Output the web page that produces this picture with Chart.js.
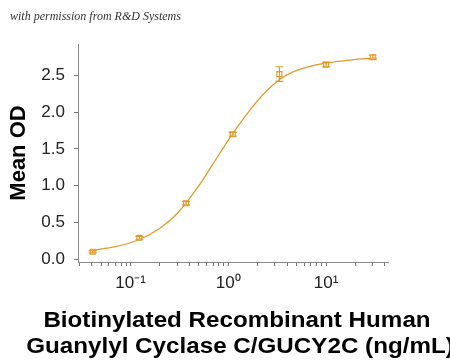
<!DOCTYPE html>
<html>
<head>
<meta charset="utf-8">
<script src="https://cdn.jsdelivr.net/npm/chart.js@4/dist/chart.umd.min.js"></script>
<style>
  html, body { margin: 0; padding: 0; background: #fff; }
</style>
</head>
<body>
<canvas id="odChart" width="450" height="362"></canvas>
<script>
// measured points (ng/mL vs mean OD)
const concentrations = [0.041, 0.123, 0.37, 1.11, 3.33, 10, 30]
const meanOD = [0.10, 0.29, 0.76, 1.70, 2.52, 2.65, 2.75]
const odError = [0.015, 0.02, 0.025, 0.025, 0.10, 0.03, 0.03]

// fitted curve
const fitConc = [0.041, 0.07, 0.12, 0.2, 0.3, 0.5, 0.7, 1.0, 1.5, 2, 2.5, 3.3, 4, 5, 7, 10, 15, 20, 33]
const fitOD = [0.12, 0.17, 0.26, 0.42, 0.62, 1.00, 1.30, 1.62, 1.95, 2.16, 2.30, 2.44, 2.51, 2.57, 2.63, 2.67, 2.70, 2.72, 2.74]

const yTicks = [0, 0.5, 1.0, 1.5, 2.0, 2.5]
const xMajor = [0.1, 1, 10]
const xMajorLabels = ['10⁻¹', '10⁰', '10¹']
const xTitle = ['Biotinylated Recombinant Human', 'Guanylyl Cyclase C/GUCY2C (ng/mL)']

const orange = '#e29a2b'

const errorBars = {
    id: 'errorBars',
    afterDatasetsDraw(chart) {
        const { ctx, scales: { x, y } } = chart
        ctx.save()
        ctx.strokeStyle = orange
        ctx.lineWidth = 1.2
        concentrations.forEach((c, i) => {
            const px = x.getPixelForValue(c)
            const top = y.getPixelForValue(meanOD[i] + odError[i])
            const bot = y.getPixelForValue(meanOD[i] - odError[i])
            ctx.beginPath()
            ctx.moveTo(px, top); ctx.lineTo(px, bot)
            ctx.moveTo(px - 4, top); ctx.lineTo(px + 4, top)
            ctx.moveTo(px - 4, bot); ctx.lineTo(px + 4, bot)
            ctx.stroke()
        })
        ctx.restore()
    }
}

// header note + x axis title (drawn by hand so the long lines aren't squeezed)
const texts = {
    id: 'texts',
    afterDraw(chart) {
        const ctx = chart.ctx
        ctx.save()
        ctx.font = 'italic 12px "Liberation Serif"'
        ctx.fillStyle = '#333'
        ctx.textBaseline = 'alphabetic'
        ctx.fillText('with permission from R&D Systems', 10, 20)

        ctx.font = 'bold 22px "Liberation Sans", Arial'
        ctx.fillStyle = '#000'
        ctx.textAlign = 'center'
        ctx.save()
        ctx.translate(237, 327)
        ctx.scale(1.1, 1)
        ctx.fillText(xTitle[0], 0, 0)
        ctx.restore()
        ctx.save()
        ctx.translate(240, 353)
        ctx.scale(1.1, 1)
        ctx.fillText(xTitle[1], 0, 0)
        ctx.restore()
        ctx.restore()
    }
}

const data = {
    datasets: [{
        type: 'line',
        data: fitConc.map((c, i) => ({ x: c, y: fitOD[i] })),
        borderColor: orange,
        borderWidth: 1.3,
        pointRadius: 0,
        cubicInterpolationMode: 'monotone',
        fill: false,
        order: 2
    }, {
        type: 'scatter',
        data: concentrations.map((c, i) => ({ x: c, y: meanOD[i] })),
        pointStyle: 'rect',
        pointRadius: 3.5,
        borderColor: orange,
        borderWidth: 1.2,
        backgroundColor: 'rgba(255,255,255,0.5)',
        order: 1
    }]
}

const options = {
    responsive: false,
    animation: false,
    layout: { padding: { left: 6, right: 62, top: 44, bottom: 0 } },
    plugins: {
        legend: { display: false },
        tooltip: { enabled: false }
    },
    scales: {
        x: {
            type: 'logarithmic',
            min: 0.029,
            max: 43,
            afterBuildTicks: scale => {
                const t = []
                for (let d = 0.01; d <= 10; d *= 10) {
                    for (let m = 1; m <= 9; m++) {
                        const v = +(m * d).toPrecision(3)
                        if (v >= 0.029 && v <= 43) t.push({ value: v, major: m === 1 })
                    }
                }
                scale.ticks = t
            },
            ticks: {
                autoSkip: false,
                maxRotation: 0,
                padding: 7,
                color: '#222',
                font: { family: '"Liberation Sans", Arial', size: 17 },
                callback: v => {
                    const k = xMajor.indexOf(v)
                    return k >= 0 ? xMajorLabels[k] : ''
                }
            },
            grid: {
                drawOnChartArea: false,
                tickLength: 4,
                tickColor: '#777'
            },
            border: { color: '#888' },
            afterFit: scale => { scale.height = 100 }
        },
        y: {
            min: -0.04,
            max: 2.93,
            afterBuildTicks: scale => {
                scale.ticks = yTicks.map(v => ({ value: v }))
            },
            ticks: {
                padding: 9,
                color: '#222',
                font: { family: '"Liberation Sans", Arial', size: 17 },
                callback: v => v.toFixed(1)
            },
            grid: {
                drawOnChartArea: false,
                tickLength: 4,
                tickColor: '#777'
            },
            border: { color: '#888' },
            title: {
                display: true,
                text: 'Mean OD',
                color: '#000',
                font: { family: '"Liberation Sans", Arial', size: 22, weight: 'bold' },
                padding: { top: 0, bottom: 4 }
            },
            afterFit: scale => { scale.width = 72 }
        }
    }
}

new Chart('odChart', {
    data,
    options,
    plugins: [errorBars, texts]
})
</script>
</body>
</html>
